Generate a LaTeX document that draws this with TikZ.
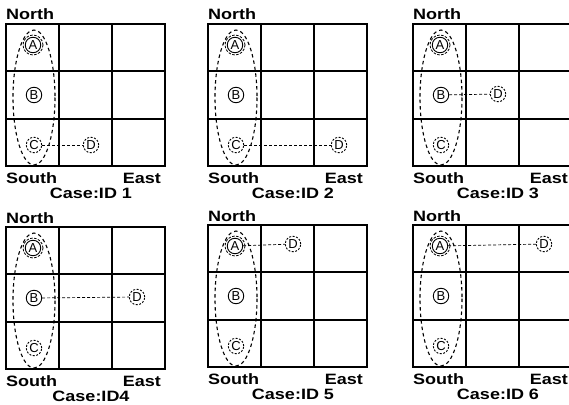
\documentclass[tikz,border=0pt]{standalone}
\usepackage{fontspec}
\setmainfont{Liberation Sans}
\newfontfamily\capfont[FakeStretch=1.2]{Liberation Sans}
\usetikzlibrary{positioning}

\begin{document}
\begin{tikzpicture}[x=1pt,y=-1pt,
   gridline/.style={line width=1.1pt},
   frameline/.style={line width=1.8pt},
   site/.style={circle,draw,line width=0.9pt,minimum size=15.5pt,inner sep=0pt,
                font=\fontsize{13}{13}\selectfont},
   dsite/.style={site,dash pattern=on 2pt off 1.5pt},
   lbl/.style={font=\capfont\bfseries\fontsize{15}{15}\selectfont,inner sep=0pt}]
  \useasboundingbox (0,0) rectangle (569,404);
  \clip (0,0) rectangle (569,404);
  % ---------- six cases ----------
  \foreach \px/\py/\cid/\dx/\dy/\src in
     {6/24/{Case:ID 1}/85/121/c, 208/24/{Case:ID 2}/131/121/c,
      413/24/{Case:ID 3}/85/70/b, 6/227/{Case:ID4}/131/70/b,
      208/225/{Case:ID 5}/85/19/a, 413/225/{Case:ID 6}/131/19/a}{
  \begin{scope}[shift={(\px,\py)}]
    % 3x3 grid
    \draw[gridline] (53,0)--(53,142) (106,0)--(106,142)
                    (0,47)--(159,47) (0,95)--(159,95);
    \draw[frameline] (0,0) rectangle (159,142);
    % sites
    \node[site] (a) at (27,21) {A};
    \draw[dash pattern=on 2.5pt off 1.5pt,line width=0.8pt] (a) circle (10pt);
    \node[site] (b) at (28,71) {B};
    \node[dsite] (c) at (28,121) {C};
    \node[dsite] (d) at (\dx,\dy) {D};
    % group A-B-C
    \draw[dash pattern=on 3.5pt off 3pt,line width=1.1pt] (28,73.5) ellipse (21 and 67.5);
    \draw[dash pattern=on 3pt off 2pt,line width=0.7pt] (\src) -- (d);
    % labels
    \node[lbl,anchor=base west] (lblN) at (0,-4) {North};
    \node[lbl,anchor=base west] (lblS) at (0,159) {South};
    \node[lbl,anchor=base east] (lblE) at (155,159) {East};
    \node[lbl,anchor=base] (lblC) at (85,174) {\cid};
  \end{scope}}
\end{tikzpicture}
\end{document}
